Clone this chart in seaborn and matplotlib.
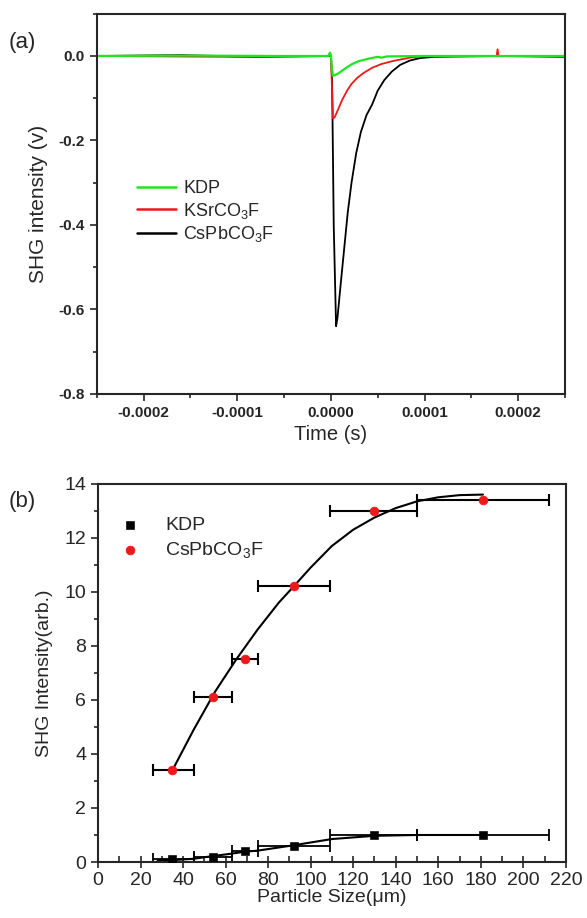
import numpy as np
import matplotlib
matplotlib.use("Agg")
import matplotlib.pyplot as plt
import seaborn as sns
from matplotlib.ticker import MultipleLocator, FormatStrFormatter
from matplotlib.lines import Line2D

# ---- panel (a): SHG signal vs time ----
t_kdp = [-0.00025, -0.00015, -0.00005, -0.000003, -0.000001, 0.0, 0.000001, 0.0000022,
         0.0000045, 0.000008, 0.0000119, 0.000017, 0.0000227, 0.00003, 0.000041, 0.00005,
         0.000054, 0.00006, 0.0001, 0.00025]
v_kdp = [0.0, 0.001, 0.0, 0.0, 0.008, 0.002, -0.03, -0.047,
         -0.045, -0.041, -0.035, -0.027, -0.019, -0.012, -0.006, -0.002,
         -0.004, -0.001, 0.0, 0.0]

t_ksr = [-0.00025, -0.0001, 0.0, 0.0000012, 0.0000022, 0.000004, 0.000006, 0.0000086,
         0.000012, 0.0000173, 0.000022, 0.000028, 0.000035, 0.000044, 0.000054, 0.000066,
         0.000084, 0.0001, 0.000177, 0.000178, 0.000179, 0.00025]
v_ksr = [0.0, -0.002, 0.0, -0.08, -0.148, -0.145, -0.135, -0.122,
         -0.104, -0.082, -0.066, -0.052, -0.040, -0.028, -0.019, -0.012,
         -0.004, 0.0, 0.0, 0.016, 0.0, 0.0]

t_cspb = [-0.00025, -0.00016, -0.00008, 0.0, 0.0000012, 0.000003, 0.0000055, 0.000007,
          0.00001, 0.000014, 0.000018, 0.000022, 0.000027, 0.000032, 0.000038, 0.000044,
          0.00005, 0.000057, 0.000065, 0.000074, 0.000084, 0.000095, 0.00011, 0.00018, 0.00025]
v_cspb = [0.0, 0.002, -0.002, 0.0, -0.05, -0.40, -0.64, -0.62,
          -0.55, -0.46, -0.37, -0.30, -0.23, -0.18, -0.14, -0.115,
          -0.082, -0.057, -0.037, -0.021, -0.011, -0.005, -0.002, 0.0, -0.002]

# ---- panel (b): SHG intensity vs particle size ----
size = [35, 54, 69, 92, 130, 181]
size_lo = [26, 45, 63, 75, 109, 150]
size_hi = [45, 63, 75, 109, 150, 212]
kdp_int = [0.1, 0.2, 0.4, 0.6, 1.0, 1.0]
cspb_int = [3.4, 6.1, 7.5, 10.2, 13.0, 13.4]

# fitted curves
fit_x = [35, 45, 55, 65, 75, 85, 92, 100, 110, 120, 130, 140, 150, 160, 170, 181]
fit_cspb = [3.4, 4.9, 6.3, 7.5, 8.6, 9.6, 10.2, 10.9, 11.7, 12.3, 12.75, 13.1, 13.35, 13.5, 13.58, 13.6]
fit_kdp_x = [28, 35, 45, 54, 62, 69, 75, 92, 110, 130, 150, 181]
fit_kdp = [0.05, 0.07, 0.12, 0.22, 0.3, 0.38, 0.42, 0.62, 0.85, 0.97, 1.0, 1.0]

sns.set_style("ticks")
plt.rcParams["font.family"] = ["Liberation Sans", "DejaVu Sans"]
plt.rcParams["mathtext.fontset"] = "custom"
plt.rcParams["mathtext.rm"] = "Liberation Sans"
plt.rcParams["mathtext.it"] = "Liberation Sans:italic"

fig = plt.figure(figsize=(5.87, 9.18), dpi=100)
ax1 = fig.add_axes([0.165, 0.571, 0.7975, 0.414])
ax2 = fig.add_axes([0.167, 0.061, 0.797, 0.412])

green, red = "#1ee61e", "#f01818"

sns.lineplot(x=t_cspb, y=v_cspb, ax=ax1, color="black", lw=1.3, estimator=None, sort=False)
sns.lineplot(x=t_ksr, y=v_ksr, ax=ax1, color=red, lw=1.3, estimator=None, sort=False)
sns.lineplot(x=t_kdp, y=v_kdp, ax=ax1, color=green, lw=1.6, estimator=None, sort=False)

ax1.set_xlim(-0.00025, 0.00025)
ax1.set_ylim(-0.8, 0.1)
ax1.xaxis.set_major_locator(MultipleLocator(0.0001))
ax1.xaxis.set_minor_locator(MultipleLocator(0.00005))
ax1.yaxis.set_minor_locator(MultipleLocator(0.1))
ax1.xaxis.set_major_formatter(FormatStrFormatter("%.4f"))
ax1.yaxis.set_major_formatter(FormatStrFormatter("%.1f"))
ax1.set_yticks([0.0, -0.2, -0.4, -0.6, -0.8])
ax1.tick_params(which="major", direction="out", length=5, width=1.2, labelsize=11)
ax1.tick_params(which="minor", direction="out", length=3, width=1.2)
for lab in ax1.get_xticklabels() + ax1.get_yticklabels():
    lab.set_fontweight("bold")
ax1.set_xlabel("Time (s)", fontsize=14.5)
ax1.set_ylabel("SHG intensity (v)", fontsize=15, labelpad=8)
for sp in ax1.spines.values():
    sp.set_linewidth(1.5)
    sp.set_visible(True)

handles = [Line2D([], [], color=green, lw=1.8),
           Line2D([], [], color=red, lw=1.8),
           Line2D([], [], color="black", lw=1.8)]
ax1.legend(handles, ["KDP", r"KSrCO$_3$F", r"CsPbCO$_3$F"], loc="upper left",
           bbox_to_anchor=(0.05, 0.605), frameon=False, fontsize=13,
           handlelength=2.2, handletextpad=0.4, labelspacing=0.2)
fig.text(0.015, 0.948, "(a)", fontsize=16)

# panel (b)
xerr = [np.array(size) - np.array(size_lo), np.array(size_hi) - np.array(size)]
ax2.errorbar(size, kdp_int, xerr=xerr, fmt="none", ecolor="black", elinewidth=1.3,
             capsize=4, capthick=1.3)
ax2.errorbar(size, cspb_int, xerr=xerr, fmt="none", ecolor="black", elinewidth=1.5,
             capsize=4, capthick=1.5)
sns.lineplot(x=fit_x, y=fit_cspb, ax=ax2, color="black", lw=1.5, estimator=None, sort=False)
sns.lineplot(x=fit_kdp_x, y=fit_kdp, ax=ax2, color="black", lw=1.5, estimator=None, sort=False)
sns.scatterplot(x=size, y=kdp_int, ax=ax2, marker="s", color="black", s=30,
                edgecolor="black", label="KDP", zorder=5)
sns.scatterplot(x=size, y=cspb_int, ax=ax2, marker="o", color=red, s=40,
                edgecolor=red, label=r"CsPbCO$_3$F", zorder=5)

ax2.set_xlim(0, 220)
ax2.set_ylim(0, 14)
ax2.xaxis.set_major_locator(MultipleLocator(20))
ax2.xaxis.set_minor_locator(MultipleLocator(10))
ax2.yaxis.set_major_locator(MultipleLocator(2))
ax2.yaxis.set_minor_locator(MultipleLocator(1))
ax2.tick_params(axis="x", which="major", direction="inout", length=8, width=1.2, labelsize=14)
ax2.tick_params(axis="x", which="minor", direction="in", length=4, width=1.2)
ax2.tick_params(axis="y", which="major", direction="out", length=5, width=1.2, labelsize=14)
ax2.tick_params(axis="y", which="minor", direction="out", length=3, width=1.2)
ax2.set_xlabel("Particle Size(\u03bcm)", fontsize=14, labelpad=0)
ax2.set_ylabel("SHG Intensity(arb.)", fontsize=14, labelpad=8)
for sp in ax2.spines.values():
    sp.set_linewidth(1.5)
    sp.set_visible(True)
ax2.legend(loc="upper left", bbox_to_anchor=(-0.01, 0.96), frameon=False, fontsize=14,
           handletextpad=0.8, labelspacing=0.3, markerscale=1.0)
fig.text(0.015, 0.448, "(b)", fontsize=16)

fig.savefig("out.png", dpi=100)
